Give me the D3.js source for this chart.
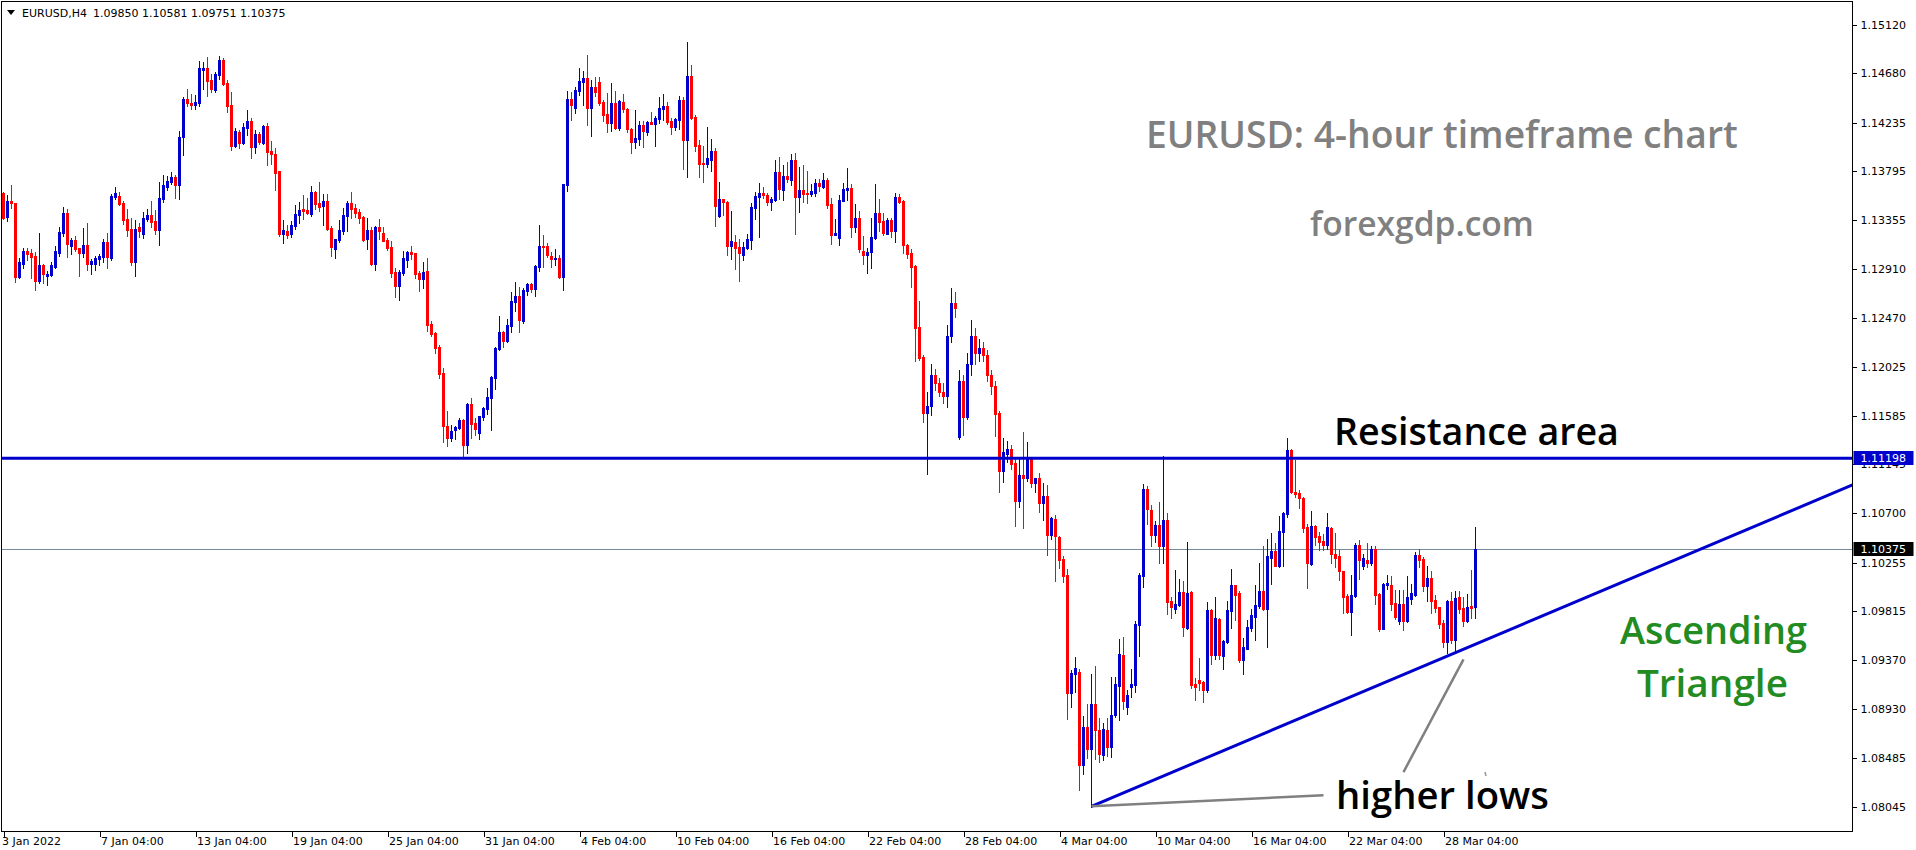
<!DOCTYPE html>
<html><head><meta charset="utf-8">
<script src="https://cdn.jsdelivr.net/npm/d3@7"></script>
<style>
html,body{margin:0;padding:0;background:#fff;overflow:hidden}
svg{display:block}
</style></head><body>
<svg id="chart" width="1916" height="850"></svg>
<script>
// ---------------- DATA ----------------
const symbolLabel = "EURUSD,H4";
const firstBarUTC = [2022, 0, 3, 4];   // first bar: 3 Jan 2022 04:00 (H4 bars, weekends skipped)

const openP = [1.13594,1.13383,1.13525,1.13507,1.12834,1.12955,1.13076,1.13051,1.13027,1.12804,
1.12943,1.12846,1.12855,1.12925,1.13057,1.13238,1.13416,1.13121,1.13172,1.13100,
1.13057,1.13127,1.12958,1.12958,1.13003,1.13021,1.13154,1.13012,1.13561,1.13570,
1.13507,1.13362,1.13272,1.12976,1.13290,1.13229,1.13362,1.13398,1.13344,1.13263,
1.13543,1.13651,1.13697,1.13742,1.13673,1.14104,1.14447,1.14414,1.14393,1.14411,
1.14710,1.14728,1.14619,1.14529,1.14664,1.14800,1.14592,1.14393,1.14022,1.14149,
1.14049,1.14185,1.14248,1.14013,1.14131,1.14049,1.14203,1.13977,1.13950,1.13796,
1.13226,1.13253,1.13226,1.13299,1.13398,1.13452,1.13443,1.13407,1.13606,1.13507,
1.13480,1.13525,1.13281,1.13091,1.13172,1.13253,1.13389,1.13507,1.13461,1.13425,
1.13380,1.13181,1.13263,1.12955,1.13290,1.13235,1.13172,1.13109,1.12883,1.12756,
1.12874,1.12991,1.13063,1.13054,1.12874,1.12819,1.12892,1.12412,1.12331,1.12204,
1.11969,1.11490,1.11381,1.11453,1.11472,1.11544,1.11318,1.11689,1.11517,1.11426,
1.11571,1.11643,1.11743,1.11924,1.12186,1.12340,1.12258,1.12394,1.12611,1.12665,
1.12439,1.12711,1.12774,1.12729,1.12928,1.13118,1.13118,1.13027,1.13000,1.13009,
1.12838,1.13670,1.14448,1.14367,1.14520,1.14602,1.14638,1.14367,1.14556,1.14602,
1.14421,1.14312,1.14231,1.14412,1.14186,1.14421,1.14357,1.14177,1.14059,1.14086,
1.14213,1.14149,1.14240,1.14222,1.14267,1.14357,1.14385,1.14249,1.14195,1.14258,
1.14439,1.14077,1.14656,1.14285,1.14032,1.13869,1.13860,1.13896,1.13978,1.13390,
1.13543,1.13516,1.13118,1.13155,1.13109,1.13037,1.13101,1.13173,1.13462,1.13562,
1.13598,1.13580,1.13517,1.13535,1.13788,1.13625,1.13752,1.13716,1.13900,1.13562,
1.13625,1.13598,1.13589,1.13598,1.13688,1.13652,1.13716,1.13498,1.13218,1.13191,
1.13526,1.13625,1.13643,1.13290,1.13372,1.13073,1.13037,1.13064,1.13191,1.13417,
1.13345,1.13227,1.13354,1.13254,1.13562,1.13526,1.13128,1.13055,1.12938,1.12386,
1.12115,1.11608,1.11671,1.11950,1.11880,1.11800,1.11760,1.12300,1.12600,1.11393,
1.11900,1.11568,1.12050,1.12300,1.12150,1.12200,1.12130,1.11950,1.11850,1.11607,
1.11083,1.11237,1.11282,1.11155,1.10811,1.11047,1.11019,1.11191,1.10974,1.11019,
1.10793,1.10857,1.10504,1.10649,1.10486,1.10287,1.10142,1.09075,1.09247,1.09265,
1.08424,1.08767,1.08568,1.08975,1.08740,1.08514,1.08740,1.08586,1.08876,1.09139,
1.09419,1.08949,1.09130,1.09148,1.09691,1.10134,1.10921,1.10731,1.10505,1.10595,
1.10405,1.10641,1.09908,1.09836,1.09872,1.09989,1.09664,1.09989,1.09157,1.09193,
1.09175,1.09103,1.09826,1.09419,1.09745,1.09410,1.09537,1.09817,1.10053,1.09980,
1.09374,1.09474,1.09664,1.09763,1.09863,1.09998,1.09836,1.10297,1.10360,1.10224,
1.10532,1.10695,1.11274,1.10894,1.10885,1.10840,1.10574,1.10242,1.10586,1.10495,
1.10450,1.10414,1.10568,1.10333,1.10314,1.10179,1.09953,1.09808,1.09953,1.10414,
1.10224,1.10278,1.10251,1.10378,1.09971,1.09654,1.10052,1.10052,1.09889,1.09727,
1.09880,1.09727,1.09925,1.09962,1.10324,1.10287,1.10043,1.10115,1.09916,1.09853,
1.09708,1.09537,1.09907,1.09555,1.09944,1.09844,1.09727,1.09862,1.09850];

const highP = [1.13609,1.13579,1.13670,1.13510,1.13006,1.13097,1.13097,1.13088,1.13063,1.13235,
1.12955,1.12892,1.12973,1.13118,1.13290,1.13470,1.13452,1.13190,1.13208,1.13103,
1.13281,1.13326,1.13000,1.13027,1.13045,1.13181,1.13235,1.13588,1.13651,1.13606,
1.13525,1.13452,1.13371,1.13353,1.13326,1.13425,1.13452,1.13525,1.13443,1.13697,
1.13760,1.13751,1.13787,1.13760,1.14158,1.14465,1.14538,1.14493,1.14484,1.14791,
1.14782,1.14827,1.14673,1.14692,1.14836,1.14818,1.14619,1.14511,1.14185,1.14167,
1.14230,1.14348,1.14276,1.14167,1.14149,1.14212,1.14230,1.14067,1.14004,1.13800,
1.13353,1.13308,1.13344,1.13489,1.13516,1.13579,1.13552,1.13660,1.13615,1.13697,
1.13588,1.13588,1.13299,1.13185,1.13353,1.13461,1.13525,1.13606,1.13498,1.13452,
1.13389,1.13371,1.13290,1.13299,1.13362,1.13290,1.13190,1.13163,1.12919,1.12901,
1.13073,1.13073,1.13118,1.13057,1.12892,1.12973,1.13009,1.12439,1.12340,1.12222,
1.12014,1.11625,1.11499,1.11490,1.11562,1.11553,1.11695,1.11743,1.11562,1.11583,
1.11661,1.11833,1.11942,1.12204,1.12485,1.12349,1.12458,1.12702,1.12792,1.12747,
1.12738,1.12783,1.12783,1.12946,1.13308,1.13217,1.13145,1.13063,1.13091,1.13036,
1.13682,1.14520,1.14511,1.14556,1.14728,1.14701,1.14846,1.14620,1.14647,1.14647,
1.14439,1.14502,1.14593,1.14520,1.14439,1.14493,1.14367,1.14186,1.14348,1.14249,
1.14249,1.14249,1.14330,1.14294,1.14466,1.14493,1.14421,1.14276,1.14276,1.14475,
1.14466,1.14963,1.14755,1.14303,1.14077,1.14023,1.14195,1.14086,1.14005,1.13697,
1.13546,1.13525,1.13435,1.13218,1.13182,1.13155,1.13227,1.13508,1.13607,1.13688,
1.13652,1.13598,1.13562,1.13900,1.13920,1.13850,1.13880,1.13950,1.13960,1.13830,
1.13850,1.13797,1.13679,1.13725,1.13725,1.13779,1.13734,1.13553,1.13363,1.13580,
1.13688,1.13820,1.13679,1.13498,1.13435,1.13209,1.13100,1.13372,1.13679,1.13544,
1.13417,1.13372,1.13372,1.13598,1.13589,1.13530,1.13137,1.13091,1.12942,1.12621,
1.12133,1.11798,1.12050,1.12010,1.11920,1.11880,1.12400,1.12740,1.12700,1.12000,
1.11950,1.12150,1.12450,1.12380,1.12280,1.12250,1.12180,1.12000,1.11900,1.11625,
1.11381,1.11354,1.11318,1.11200,1.11200,1.11436,1.11345,1.11200,1.11022,1.11065,
1.10974,1.10956,1.10667,1.10685,1.10495,1.10314,1.10196,1.09283,1.09400,1.09292,
1.08867,1.08975,1.09247,1.09319,1.08849,1.08803,1.08849,1.09220,1.09220,1.09564,
1.09582,1.09103,1.09293,1.09727,1.10161,1.10966,1.10948,1.10776,1.10631,1.10803,
1.11219,1.10704,1.09944,1.10188,1.10107,1.10089,1.10442,1.09998,1.09211,1.09392,
1.09184,1.09899,1.09836,1.09944,1.09754,1.09555,1.09908,1.10197,1.10056,1.09998,
1.09573,1.09736,1.09836,1.10053,1.10252,1.10405,1.10469,1.10523,1.10432,1.10677,
1.10713,1.11382,1.11278,1.11183,1.10912,1.10850,1.10604,1.10722,1.10595,1.10532,
1.10513,1.10703,1.10577,1.10523,1.10369,1.10182,1.09971,1.10143,1.10432,1.10459,
1.10333,1.10432,1.10405,1.10405,1.09980,1.10070,1.10143,1.10134,1.10007,1.10007,
1.10007,1.10134,1.10061,1.10351,1.10378,1.10305,1.10224,1.10179,1.09962,1.09856,
1.09736,1.09916,1.09989,1.09998,1.09998,1.09944,1.09971,1.10188,1.10581];

const lowP = [1.13362,1.13347,1.13458,1.12795,1.12825,1.12916,1.12991,1.12831,1.12720,1.12780,
1.12780,1.12765,1.12846,1.12916,1.13027,1.13208,1.13018,1.13045,1.13073,1.12846,
1.13018,1.12901,1.12868,1.12901,1.12946,1.12976,1.12919,1.12991,1.13543,1.13489,
1.13317,1.13208,1.12946,1.12846,1.13199,1.13190,1.13344,1.13290,1.13226,1.13127,
1.13516,1.13624,1.13679,1.13552,1.13543,1.13941,1.14384,1.14357,1.14357,1.14384,
1.14538,1.14474,1.14511,1.14511,1.14628,1.14574,1.14330,1.13986,1.14013,1.14004,
1.14040,1.14122,1.13914,1.13959,1.14040,1.14040,1.13850,1.13859,1.13624,1.13208,
1.13145,1.13190,1.13199,1.13272,1.13326,1.13362,1.13407,1.13389,1.13452,1.13434,
1.13308,1.13263,1.13027,1.13009,1.13154,1.13226,1.13253,1.13371,1.13380,1.13326,
1.13163,1.13091,1.12946,1.12901,1.13181,1.13160,1.13082,1.12837,1.12656,1.12629,
1.12855,1.12928,1.13000,1.12828,1.12711,1.12738,1.12349,1.12304,1.12150,1.11924,
1.11345,1.11309,1.11354,1.11372,1.11462,1.11209,1.11245,1.11381,1.11408,1.11372,
1.11544,1.11598,1.11454,1.11824,1.12177,1.12204,1.12249,1.12340,1.12530,1.12340,
1.12421,1.12675,1.12702,1.12665,1.12892,1.12928,1.13018,1.12928,1.12946,1.12830,
1.12720,1.13616,1.14258,1.14321,1.14484,1.14394,1.14213,1.14113,1.14475,1.14394,
1.14249,1.14149,1.14158,1.14177,1.14167,1.14330,1.14149,1.13959,1.14005,1.14032,
1.14014,1.14122,1.14220,1.14023,1.14231,1.14258,1.14222,1.14131,1.14167,1.14177,
1.13815,1.13742,1.14267,1.13978,1.13742,1.13697,1.13833,1.13797,1.13299,1.13381,
1.13399,1.13037,1.13001,1.12910,1.12802,1.12992,1.13091,1.13091,1.13363,1.13200,
1.13553,1.13489,1.13444,1.13526,1.13544,1.13535,1.13697,1.13670,1.13227,1.13426,
1.13517,1.13508,1.13571,1.13571,1.13616,1.13643,1.13462,1.13137,1.13215,1.13128,
1.13523,1.13535,1.13200,1.13245,1.13064,1.12956,1.12874,1.12920,1.13182,1.13254,
1.13218,1.13225,1.13200,1.13155,1.13508,1.13055,1.13010,1.12748,1.12078,1.12087,
1.11527,1.11056,1.11589,1.11820,1.11760,1.11700,1.11660,1.12250,1.12480,1.11369,
1.11408,1.11550,1.11950,1.12050,1.12080,1.12080,1.11900,1.11780,1.11399,1.10893,
1.10983,1.11164,1.11101,1.10585,1.10757,1.10567,1.10992,1.10938,1.10893,1.10712,
1.10640,1.10323,1.10468,1.10088,1.10205,1.10079,1.08840,1.08948,1.09084,1.08198,
1.08342,1.08487,1.08044,1.08478,1.08451,1.08469,1.08505,1.08496,1.08860,1.08832,
1.08931,1.08886,1.09040,1.09085,1.09410,1.10034,1.10604,1.10405,1.10441,1.10252,
1.10252,1.09790,1.09754,1.09799,1.09863,1.09591,1.09655,1.09121,1.09012,1.09103,
1.08994,1.09085,1.09338,1.09383,1.09383,1.09293,1.09528,1.09664,1.09736,1.09356,
1.09248,1.09470,1.09637,1.09555,1.09845,1.09826,1.09492,1.10062,1.10221,1.10215,
1.10224,1.10668,1.10885,1.10849,1.10749,1.10529,1.10028,1.10233,1.10414,1.10369,
1.10369,1.10378,1.10251,1.10215,1.10097,1.09799,1.09799,1.09600,1.09944,1.10106,
1.10197,1.10215,1.10233,1.09880,1.09636,1.09650,1.10016,1.09826,1.09745,1.09699,
1.09645,1.09718,1.09880,1.09953,1.10215,1.09998,1.09907,1.09799,1.09808,1.09663,
1.09491,1.09437,1.09528,1.09455,1.09799,1.09681,1.09718,1.09754,1.09751];

const closeP = [1.13374,1.13522,1.13507,1.12840,1.12973,1.13073,1.13045,1.13021,1.12804,1.12946,
1.12865,1.12865,1.12946,1.13073,1.13244,1.13416,1.13136,1.13172,1.13094,1.13057,
1.13127,1.12958,1.12982,1.13009,1.13027,1.13154,1.13021,1.13570,1.13597,1.13498,
1.13353,1.13266,1.12976,1.13272,1.13253,1.13371,1.13398,1.13338,1.13266,1.13552,
1.13670,1.13706,1.13742,1.13673,1.14104,1.14447,1.14411,1.14393,1.14420,1.14728,
1.14728,1.14610,1.14538,1.14673,1.14800,1.14583,1.14384,1.14022,1.14158,1.14049,
1.14194,1.14248,1.14013,1.14131,1.14058,1.14203,1.13968,1.13950,1.13778,1.13226,
1.13263,1.13217,1.13308,1.13407,1.13443,1.13434,1.13416,1.13606,1.13498,1.13470,
1.13525,1.13272,1.13109,1.13181,1.13263,1.13398,1.13507,1.13452,1.13416,1.13371,
1.13172,1.13263,1.12955,1.13290,1.13253,1.13163,1.13100,1.12874,1.12756,1.12883,
1.13009,1.13063,1.13045,1.12865,1.12819,1.12883,1.12403,1.12322,1.12195,1.11960,
1.11490,1.11381,1.11444,1.11481,1.11544,1.11318,1.11689,1.11508,1.11462,1.11580,
1.11652,1.11752,1.11933,1.12195,1.12340,1.12258,1.12403,1.12620,1.12665,1.12448,
1.12720,1.12774,1.12729,1.12937,1.13118,1.13109,1.13036,1.13000,1.13009,1.12837,
1.13679,1.14448,1.14394,1.14529,1.14611,1.14638,1.14367,1.14556,1.14511,1.14412,
1.14303,1.14231,1.14412,1.14186,1.14430,1.14357,1.14177,1.14059,1.14095,1.14213,
1.14158,1.14240,1.14222,1.14276,1.14367,1.14385,1.14240,1.14195,1.14267,1.14439,
1.14077,1.14656,1.14276,1.14023,1.13860,1.13860,1.13914,1.13978,1.13480,1.13543,
1.13516,1.13118,1.13164,1.13100,1.13055,1.13109,1.13182,1.13471,1.13571,1.13598,
1.13580,1.13517,1.13544,1.13788,1.13634,1.13752,1.13725,1.13900,1.13562,1.13625,
1.13589,1.13589,1.13616,1.13688,1.13661,1.13716,1.13489,1.13218,1.13236,1.13535,
1.13634,1.13643,1.13290,1.13372,1.13091,1.13037,1.13064,1.13200,1.13417,1.13336,
1.13236,1.13354,1.13254,1.13562,1.13517,1.13128,1.13046,1.12929,1.12377,1.12106,
1.11608,1.11671,1.11950,1.11880,1.11800,1.11760,1.12300,1.12600,1.12560,1.11900,
1.11568,1.12050,1.12300,1.12150,1.12200,1.12130,1.11950,1.11850,1.11598,1.11083,
1.11255,1.11282,1.11146,1.10811,1.11047,1.11019,1.11191,1.10974,1.11019,1.10793,
1.10857,1.10504,1.10658,1.10495,1.10278,1.10133,1.09075,1.09256,1.09301,1.08424,
1.08767,1.08568,1.08975,1.08740,1.08523,1.08749,1.08586,1.08876,1.09157,1.09428,
1.09003,1.09058,1.09157,1.09700,1.10143,1.10921,1.10740,1.10505,1.10595,1.10405,
1.10641,1.09899,1.09854,1.09881,1.09989,1.09673,1.09980,1.09148,1.09130,1.09166,
1.09103,1.09826,1.09419,1.09754,1.09419,1.09546,1.09826,1.10053,1.09962,1.09374,
1.09492,1.09673,1.09781,1.09872,1.09998,1.09836,1.10315,1.10360,1.10224,1.10541,
1.10704,1.11274,1.10894,1.10876,1.10840,1.10571,1.10248,1.10586,1.10489,1.10441,
1.10414,1.10577,1.10333,1.10296,1.10179,1.09944,1.09808,1.09962,1.10414,1.10278,
1.10296,1.10251,1.10378,1.09962,1.09654,1.10061,1.10070,1.09880,1.09763,1.09880,
1.09727,1.09944,1.09980,1.10324,1.10278,1.10043,1.10115,1.09907,1.09844,1.09699,
1.09537,1.09907,1.09555,1.09935,1.09835,1.09727,1.09853,1.09844,1.10375];

const priceTicks = [1.15120,1.14680,1.14235,1.13795,1.13355,1.12910,1.12470,1.12025,1.11585,
  1.11145,1.10700,1.10255,1.09815,1.09370,1.08930,1.08485,1.08045];
const firstTimeLabel = "3 Jan 2022";
const timeTickLabels = ["7 Jan 04:00","13 Jan 04:00","19 Jan 04:00","25 Jan 04:00","31 Jan 04:00",
  "4 Feb 04:00","10 Feb 04:00","16 Feb 04:00","22 Feb 04:00","28 Feb 04:00","4 Mar 04:00",
  "10 Mar 04:00","16 Mar 04:00","22 Mar 04:00","28 Mar 04:00"];

const resistanceLevel = 1.11198;
const trendAnchors = [{bar: 272, price: 1.0805}, {bar: 361, price: 1.0941}];
const pointerLines = [
  [{bar: 272, price: 1.0805}, {bar: 330, price: 1.0815}],
  [{bar: 365, price: 1.0938}, {bar: 350, price: 1.0836}]
];

// ---------------- BUILD ----------------
const N = openP.length;
const bars = [];
{
  let t = Date.UTC(...firstBarUTC);
  while (bars.length < N) {
    const d = new Date(t);
    const wd = d.getUTCDay();
    if (wd !== 0 && wd !== 6) {
      const i = bars.length;
      bars.push({i, time: d, o: openP[i], h: highP[i], l: lowP[i], c: closeP[i]});
    }
    t += 4 * 3600 * 1000;
  }
}
const fmtTime = d3.utcFormat("%-d %b %H:%M");

const W = 1916, H = 850;
const plot = {left: 1.5, top: 1.5, right: 1852.5, bottom: 831.5};

const x = d3.scaleLinear().domain([0, 1]).range([3.5, 7.5]);          // 4 px per bar
const y = d3.scaleLinear().domain([1.08045, 1.15120]).range([806.9, 24.7]);

const svg = d3.select("#chart");
svg.append("rect").attr("width", W).attr("height", H).attr("fill", "#fff");

const defs = svg.append("defs");
defs.append("clipPath").attr("id", "plotclip").append("rect")
  .attr("x", plot.left).attr("y", plot.top)
  .attr("width", plot.right - plot.left).attr("height", plot.bottom - plot.top);

const pg = svg.append("g").attr("clip-path", "url(#plotclip)");

// bid line (current price)
const lastBar = bars[N - 1];
pg.append("line")
  .attr("x1", plot.left).attr("x2", plot.right)
  .attr("y1", Math.round(y(lastBar.c)) + 0.5).attr("y2", Math.round(y(lastBar.c)) + 0.5)
  .attr("stroke", "#778899").attr("stroke-width", 1);

// candles
const BULL = "#0000cd", BEAR = "#ff0000";
const cg = pg.append("g").attr("shape-rendering", "crispEdges");
const candle = cg.selectAll("g.c").data(bars).join("g").attr("class", "c");
candle.append("rect")
  .attr("x", d => Math.floor(x(d.i)))
  .attr("width", 1)
  .attr("y", d => Math.round(y(Math.max(d.h, d.o, d.c))))
  .attr("height", d => Math.max(1, Math.round(y(Math.min(d.l, d.o, d.c))) - Math.round(y(Math.max(d.h, d.o, d.c))) + 1))
  .attr("fill", d => d.c >= d.o ? BULL : BEAR);
candle.append("rect")
  .attr("x", d => Math.floor(x(d.i)) - 1)
  .attr("width", 3)
  .attr("y", d => Math.round(y(Math.max(d.o, d.c))))
  .attr("height", d => Math.max(1, Math.round(y(Math.min(d.o, d.c))) - Math.round(y(Math.max(d.o, d.c))) + 1))
  .attr("fill", d => d.c >= d.o ? BULL : BEAR);

// resistance line
pg.append("line")
  .attr("x1", plot.left).attr("x2", plot.right)
  .attr("y1", y(resistanceLevel)).attr("y2", y(resistanceLevel))
  .attr("stroke", BULL).attr("stroke-width", 3);

// trend line (extended to right edge)
{
  const a = trendAnchors[0], b = trendAnchors[1];
  const slope = (b.price - a.price) / (b.bar - a.bar);
  const endBar = x.invert(plot.right);
  pg.append("line")
    .attr("x1", x(a.bar)).attr("y1", y(a.price))
    .attr("x2", x(endBar)).attr("y2", y(a.price + slope * (endBar - a.bar)))
    .attr("stroke", BULL).attr("stroke-width", 3);
}

// pointer lines ("higher lows")
pointerLines.forEach(seg => {
  pg.append("line")
    .attr("x1", x(seg[0].bar)).attr("y1", y(seg[0].price))
    .attr("x2", x(seg[1].bar)).attr("y2", y(seg[1].price))
    .attr("stroke", "#808080").attr("stroke-width", 2.5);
});
// small mark
pg.append("line").attr("x1", 1485).attr("y1", 772).attr("x2", 1486).attr("y2", 776)
  .attr("stroke", "#999").attr("stroke-width", 1.5);

// frame
svg.append("rect")
  .attr("x", plot.left).attr("y", plot.top)
  .attr("width", plot.right - plot.left).attr("height", plot.bottom - plot.top)
  .attr("fill", "none").attr("stroke", "#000").attr("stroke-width", 1)
  .attr("shape-rendering", "crispEdges");

const AXFONT = "'DejaVu Sans', sans-serif";

// right price axis
const yAxis = d3.axisRight(y).tickValues(priceTicks).tickFormat(d3.format(".5f"))
  .tickSize(4).tickPadding(4);
const ya = svg.append("g").attr("transform", `translate(${plot.right},0)`).call(yAxis);
ya.select(".domain").remove();
ya.selectAll("line").attr("stroke", "#000").attr("shape-rendering", "crispEdges");
ya.selectAll("text").attr("font-family", AXFONT).attr("font-size", 11).attr("fill", "#000");

// bottom time axis
const tickIdx = [0].concat(timeTickLabels.map(l => bars.findIndex(b => fmtTime(b.time) === l)));
const tickText = [firstTimeLabel].concat(timeTickLabels);
const xAxis = d3.axisBottom(x).tickValues(tickIdx)
  .tickFormat((d, k) => tickText[k]).tickSize(5).tickPadding(1);
const xa = svg.append("g").attr("transform", `translate(0,${plot.bottom})`).call(xAxis);
xa.select(".domain").remove();
xa.selectAll("line").attr("stroke", "#000").attr("shape-rendering", "crispEdges");
xa.selectAll("text").attr("font-family", AXFONT).attr("font-size", 11).attr("fill", "#000")
  .attr("text-anchor", "start").attr("x", (d, k) => k === 0 ? -2 : 1);

// price label boxes
function priceBox(p, bg) {
  const yy = Math.round(y(p));
  svg.append("rect").attr("x", plot.right + 1).attr("y", yy - 7).attr("width", 60).attr("height", 14)
    .attr("fill", bg);
  svg.append("text").attr("x", plot.right + 8).attr("y", yy).attr("dy", "0.36em")
    .attr("font-family", AXFONT).attr("font-size", 11).attr("fill", "#fff")
    .text(d3.format(".5f")(p));
}
priceBox(resistanceLevel, BULL);
priceBox(lastBar.c, "#000");

// header
svg.append("path").attr("d", "M7,10 L15,10 L11,15 Z").attr("fill", "#000");
svg.append("text").attr("x", 22).attr("y", 17).attr("font-family", AXFONT).attr("font-size", 11)
  .attr("fill", "#000").text(symbolLabel);
svg.append("text").attr("x", 93).attr("y", 17).attr("font-family", AXFONT).attr("font-size", 11)
  .attr("fill", "#000")
  .text([lastBar.o, lastBar.h, lastBar.l, lastBar.c].map(d3.format(".5f")).join(" "));

// annotation texts (fit to width)
const ANFONT = "'Open Sans', 'Noto Sans', sans-serif";
function note(str, x0, x1, baseline, color) {
  const t = svg.append("text").text(str).attr("x", x0).attr("y", baseline)
    .attr("font-family", ANFONT).attr("font-weight", 600).attr("font-size", 30).attr("fill", color);
  const w = t.node().getComputedTextLength();
  t.attr("font-size", 30 * (x1 - x0) / w);
  return t;
}
note("EURUSD: 4-hour timeframe chart", 1146, 1738, 148, "#808080");
note("forexgdp.com", 1310, 1534, 236, "#808080");
note("Resistance area", 1334, 1619, 445, "#000");
note("Ascending", 1620, 1807, 644, "#228b22");
note("Triangle", 1637, 1788, 697, "#228b22");
note("higher lows", 1336, 1549, 809, "#000");
</script>
</body></html>
